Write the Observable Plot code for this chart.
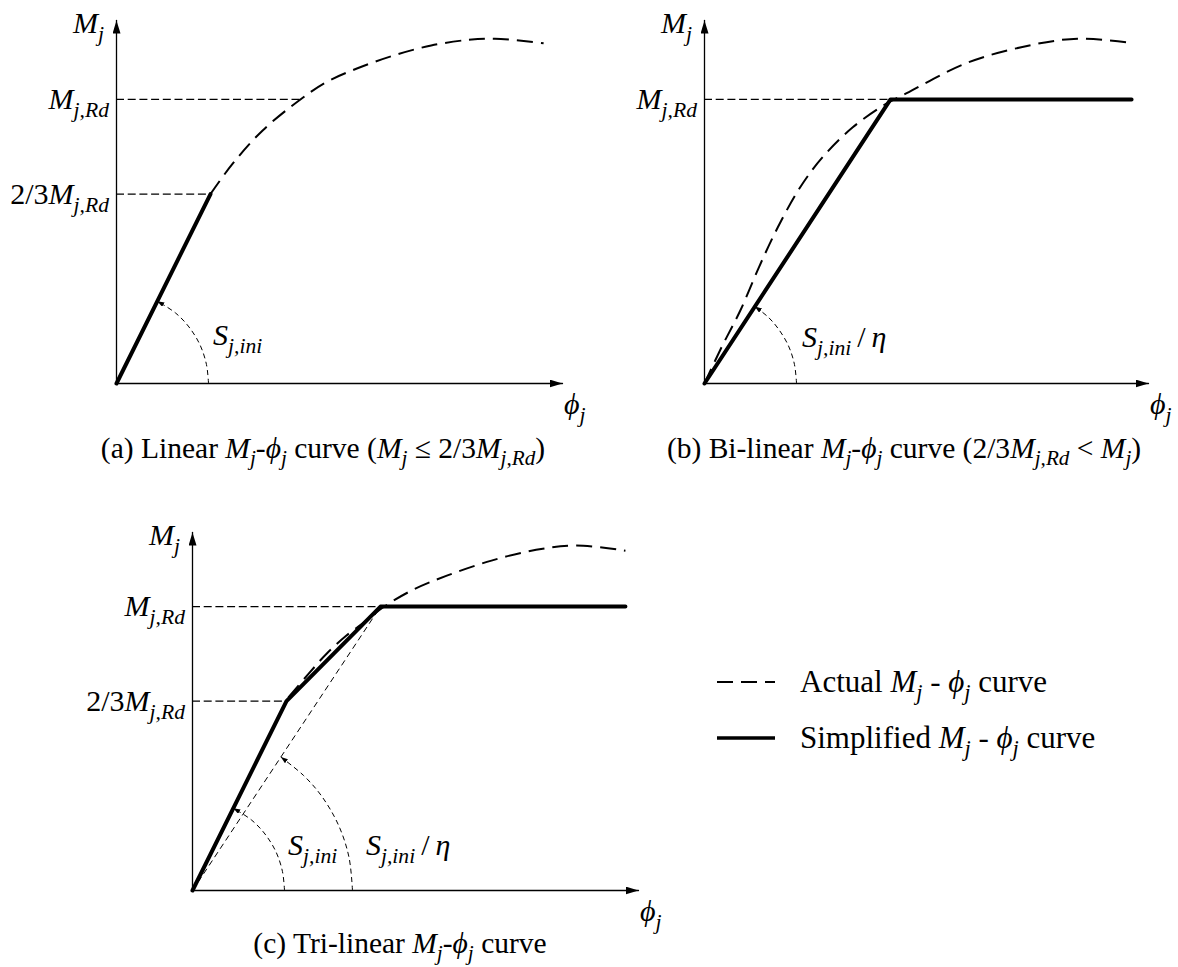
<!DOCTYPE html>
<html>
<head>
<meta charset="utf-8">
<script src="https://cdn.jsdelivr.net/npm/d3@7"></script>
<script src="https://cdn.jsdelivr.net/npm/@observablehq/plot@0.6"></script>
<style>
  html, body { margin: 0; padding: 0; background: #fff; }
  #figure { position: relative; width: 1178px; height: 967px; overflow: hidden; }
  #figure svg { position: absolute; overflow: visible; }
  #figure text { white-space: pre; }
</style>
</head>
<body>
<div id="figure"></div>
<script>
const FONT = '"Liberation Serif", "Times New Roman", Times, serif';
const SIZE_LABEL = 30;     // axis and level labels
const SIZE_CAPTION = 29.5; // panel captions
const SIZE_LEGEND = 31;    // legend entries
const SUB = 0.72;          // subscript scale

// Moment levels, normalised by the design moment resistance M_j,Rd
const mRd = 1;
const mTwoThirds = 0.667;

// ---------- (a) Linear M–ϕ curve ----------
const aExtent = [4.745, 1.278];                 // axis ends [ϕ, M]
const aSimplified = [[0, 0], [1.0, 0.667]];
const aActual = [[1.0, 0.667], [1.236, 0.774], [1.555, 0.891], [1.953, 0.999], [2.232, 1.061],
  [2.551, 1.108], [2.95, 1.155], [3.348, 1.19], [3.747, 1.21], [4.026, 1.214], [4.544, 1.198]];
const aGuides = [[mRd, 1.953], [mTwoThirds, 1.0]];   // [level, ϕ where the guide stops]
const aArc = [[0.979, 0], [0.957, 0.067], [0.887, 0.137], [0.771, 0.199], [0.629, 0.248], [0.434, 0.29]];

// ---------- (b) Bi-linear M–ϕ curve ----------
const bExtent = [4.723, 1.278];
const bSimplified = [[0, 0], [1.979, 1], [4.543, 1]];
const bActual = [[0, 0], [0.182, 0.128], [0.381, 0.257], [0.58, 0.41], [0.78, 0.55], [1.018, 0.691],
  [1.257, 0.797], [1.577, 0.902], [1.935, 0.985], [2.174, 1.026], [2.771, 1.126], [3.369, 1.184],
  [3.967, 1.214], [4.565, 1.198]];
const bGuides = [[mRd, 1.979]];
const bArc = [[0.979, 0], [0.957, 0.067], [0.894, 0.132], [0.791, 0.19], [0.68, 0.233], [0.536, 0.271]];

// ---------- (c) Tri-linear M–ϕ curve ----------
const cExtent = [4.745, 1.261];
const cSimplified = [[0, 0], [1.0, 0.667], [2.0, 1], [4.606, 1]];
const cSecant = [[0, 0], [2.0, 1]];
const cActual = [[1.02, 0.68], [1.234, 0.763], [1.424, 0.833], [1.638, 0.898], [1.851, 0.951],
  [2.018, 0.995], [2.327, 1.056], [2.706, 1.109], [3.181, 1.162], [3.656, 1.2], [4.084, 1.215], [4.606, 1.197]];
const cGuides = [[mRd, 2.0], [mTwoThirds, 1.0]];
const cArcIni = [[0.979, 0], [0.957, 0.067], [0.887, 0.137], [0.771, 0.199], [0.629, 0.248], [0.434, 0.29]];
const cArcEta = [[1.702, 0], [1.665, 0.117], [1.555, 0.229], [1.377, 0.331], [1.182, 0.405], [0.94, 0.47]];

// ---------- text (pieces: [string, flags]; i = italic, s = subscript) ----------
const txtM = [["M", "i"], ["j", "is"]];
const txtMRd = [["M", "i"], ["j,Rd", "is"]];
const txtTwoThirds = [["2/3", ""], ["M", "i"], ["j,Rd", "is"]];
const txtPhi = [["ϕ", "i"], ["j", "is"]];
const txtS = [["S", "i"], ["j,ini", "is"]];
const txtSEta = [["S", "i"], ["j,ini", "is"], ["\u2009/\u2009", ""], ["η", "i"]];
const capA = [["(a) Linear ", ""], ["M", "i"], ["j", "is"], ["-", ""], ["ϕ", "i"], ["j", "is"],
  [" curve (", ""], ["M", "i"], ["j", "is"], [" ≤ 2/3", ""], ["M", "i"], ["j,Rd", "is"], [")", ""]];
const capB = [["(b) Bi-linear ", ""], ["M", "i"], ["j", "is"], ["-", ""], ["ϕ", "i"], ["j", "is"],
  [" curve (2/3", ""], ["M", "i"], ["j,Rd", "is"], [" < ", ""], ["M", "i"], ["j", "is"], [")", ""]];
const capC = [["(c) Tri-linear ", ""], ["M", "i"], ["j", "is"], ["-", ""], ["ϕ", "i"], ["j", "is"], [" curve", ""]];
const legendLabels = [
  [["Actual ", ""], ["M", "i"], ["j", "is"], [" - ", ""], ["ϕ", "i"], ["j", "is"], [" curve", ""]],
  [["Simplified ", ""], ["M", "i"], ["j", "is"], [" - ", ""], ["ϕ", "i"], ["j", "is"], [" curve", ""]]
];

// ---------- styles ----------
const axisStyle = {stroke: "black", strokeWidth: 1.3};
const guideStyle = {stroke: "black", strokeWidth: 1.2, strokeDasharray: "8,3.7", strokeLinecap: "butt"};
const actualStyle = {stroke: "black", strokeWidth: 2, strokeDasharray: "16,8", strokeLinecap: "butt", curve: "catmull-rom"};
const simplifiedStyle = {stroke: "black", strokeWidth: 4, strokeLinecap: "round", strokeLinejoin: "round"};
const thinDash = {stroke: "black", strokeWidth: 1, strokeDasharray: "6,4", strokeLinecap: "butt"};

// filled triangular arrowhead used as a line marker
function head(len, wid) {
  return () => {
    const ns = "http://www.w3.org/2000/svg";
    const m = document.createElementNS(ns, "marker");
    m.setAttribute("viewBox", `${-len} ${-wid / 2} ${len} ${wid}`);
    m.setAttribute("markerWidth", len);
    m.setAttribute("markerHeight", wid);
    m.setAttribute("markerUnits", "userSpaceOnUse");
    m.setAttribute("refX", 0);
    m.setAttribute("refY", 0);
    m.setAttribute("orient", "auto");
    const p = document.createElementNS(ns, "path");
    p.setAttribute("d", `M0,0L${-len},${-wid / 2}L${-len},${wid / 2}Z`);
    p.setAttribute("fill", "black");
    p.setAttribute("stroke", "none");
    m.appendChild(p);
    return m;
  };
}
const axisHead = head(13, 8);
const arcHead = head(7, 5);

function richText(sel, x, y, parts, anchor = "start", size = SIZE_LABEL) {
  const t = sel.append("text")
    .attr("x", x).attr("y", y)
    .attr("text-anchor", anchor)
    .attr("fill", "black")
    .style("font-family", FONT)
    .style("font-size", size + "px");
  const drop = Math.round(size * 0.25);
  let shift = 0;
  for (const [str, fmt] of parts) {
    const sub = fmt.includes("s");
    const s = t.append("tspan").text(str);
    if (fmt.includes("i")) s.style("font-style", "italic");
    if (sub) s.style("font-size", (size * SUB).toFixed(1) + "px");
    const target = sub ? drop : 0;
    if (target !== shift) { s.attr("dy", target - shift); shift = target; }
  }
  return t;
}

const figure = d3.select("#figure");

function panel(cfg) {
  const {left, top, width, height, origin, tip, extent, simplified, actual, guides, arcs, secant} = cfg;
  const [xMax, yMax] = extent;
  const marks = [
    Plot.line([[0, 0], [0, yMax]], {...axisStyle, markerEnd: axisHead}),
    Plot.line([[0, 0], [xMax, 0]], {...axisStyle, markerEnd: axisHead}),
    Plot.ruleY(guides, {y: d => d[0], x1: () => 0, x2: d => d[1], ...guideStyle}),
    Plot.line(actual, actualStyle)
  ];
  if (secant) marks.push(Plot.line(secant, thinDash));
  marks.push(Plot.line(simplified, simplifiedStyle));
  for (const arc of arcs) marks.push(Plot.line(arc, {...thinDash, strokeDasharray: "5,3.5", curve: "catmull-rom", markerEnd: arcHead}));

  const svg = Plot.plot({
    width, height,
    marginLeft: origin[0], marginBottom: height - origin[1],
    marginRight: width - tip[0], marginTop: tip[1],
    x: {domain: [0, xMax], axis: null},
    y: {domain: [0, yMax], axis: null},
    style: {background: "none", overflow: "visible"},
    marks
  });
  svg.style.left = left + "px";
  svg.style.top = top + "px";
  figure.node().appendChild(svg);
  const X = svg.scale("x"), Y = svg.scale("y");
  const s = d3.select(svg);
  const x0 = X.apply(0), y0 = Y.apply(0);
  richText(s, x0 - 12, Y.apply(yMax) + 13, txtM, "end");
  for (const [level] of guides) richText(s, x0 - 7, Y.apply(level) + 10, level === mRd ? txtMRd : txtTwoThirds, "end");
  richText(s, X.apply(xMax) + 2, y0 + 31, txtPhi);
  for (const lab of cfg.arcLabels) richText(s, X.apply(lab.arc[0][0]) + lab.dx, y0 - lab.dy, lab.text);
  richText(s, cfg.caption.x, cfg.caption.y, cfg.caption.text, "middle", SIZE_CAPTION);
  return svg;
}

panel({
  left: 0, top: 0, width: 590, height: 470, origin: [116, 383], tip: [562, 20],
  extent: aExtent, simplified: aSimplified, actual: aActual, guides: aGuides, arcs: [aArc],
  arcLabels: [{arc: aArc, dx: 5, dy: 38, text: txtS}],
  caption: {x: 323, y: 458, text: capA}
});

panel({
  left: 590, top: 0, width: 588, height: 470, origin: [114, 383], tip: [558, 20],
  extent: bExtent, simplified: bSimplified, actual: bActual, guides: bGuides, arcs: [bArc],
  arcLabels: [{arc: bArc, dx: 6, dy: 36, text: txtSEta}],
  caption: {x: 314, y: 458, text: capB}
});

panel({
  left: 0, top: 480, width: 700, height: 487, origin: [192, 410], tip: [638, 52],
  extent: cExtent, simplified: cSimplified, actual: cActual, guides: cGuides, arcs: [cArcIni, cArcEta],
  secant: cSecant,
  arcLabels: [{arc: cArcIni, dx: 4, dy: 35, text: txtS}, {arc: cArcEta, dx: 14, dy: 35, text: txtSEta}],
  caption: {x: 400, y: 473, text: capC}
});

// legend
const legend = figure.append("svg")
  .attr("width", 488).attr("height", 140)
  .style("left", "690px").style("top", "640px");
const legendStyles = [
  {dash: "16,8", width: 2},
  {dash: null, width: 3.5}
];
legendLabels.forEach((label, i) => {
  const y = 42 + 56 * i;
  legend.append("line")
    .attr("x1", 27).attr("x2", 85).attr("y1", y).attr("y2", y)
    .attr("stroke", "black").attr("stroke-width", legendStyles[i].width)
    .attr("stroke-dasharray", legendStyles[i].dash);
  richText(legend, 110, y + 10, label, "start", SIZE_LEGEND);
});
</script>
</body>
</html>
